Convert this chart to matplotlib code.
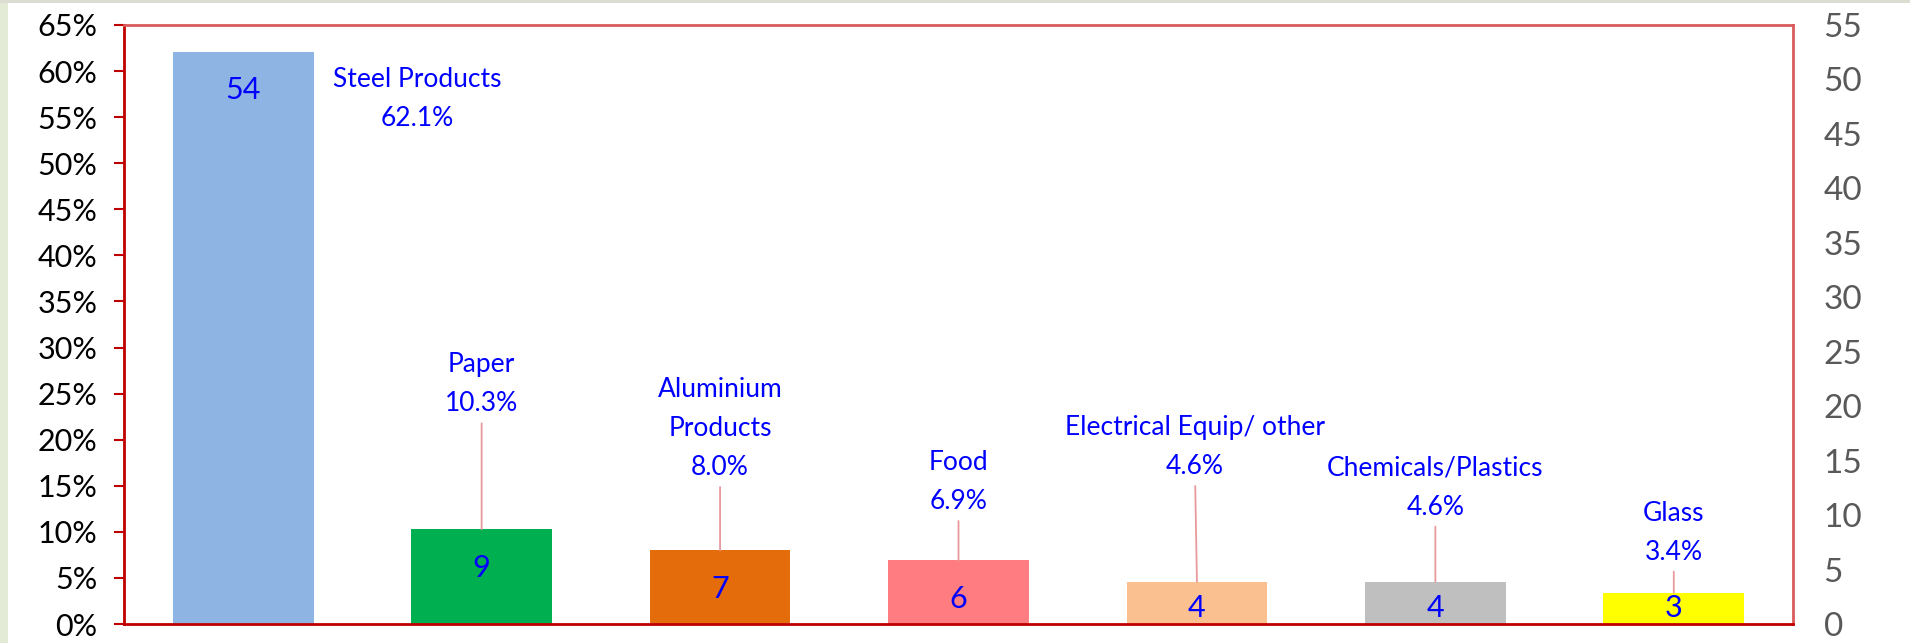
import numpy as np
import matplotlib.pyplot as plt
from matplotlib.ticker import PercentFormatter, MultipleLocator
from matplotlib.patches import Rectangle

plt.rcParams['font.family'] = ['Lato', 'DejaVu Sans']

# data
categories = ["Steel Products", "Paper", "Aluminium\nProducts", "Food",
              "Electrical Equip/ other", "Chemicals/Plastics", "Glass"]
counts = [54, 9, 7, 6, 4, 4, 3]
shares = [62.1, 10.3, 8.0, 6.9, 4.6, 4.6, 3.4]
bar_colors = ["#8eb4e3", "#00b050", "#e46c0a", "#ff7c80", "#fac090", "#bfbfbf", "#ffff00"]

# where each name/percent label sits (category units, % units)
label_xy = [(0.73, 57.0), (1.0, 26.0), (2.0, 21.2), (3.0, 15.4),
            (3.99, 19.2), (5.0, 14.8), (6.0, 9.9)]

fig = plt.figure(figsize=(19.1, 6.43), dpi=100, facecolor='white')
ax = fig.add_axes([124/1910, 19/643, (1793-124)/1910, (624-25)/643])

x = np.arange(len(categories))
ax.bar(x, shares, width=0.59, color=bar_colors, zorder=2)

ax.set_xlim(-0.5, 6.5)
ax.set_ylim(0, 65)
ax.yaxis.set_major_locator(MultipleLocator(5))
ax.yaxis.set_major_formatter(PercentFormatter(xmax=100, decimals=0))
ax.set_xticks([])
ax.tick_params(axis='y', length=7.2, width=1.5, color='#c00000', pad=12,
               labelsize=22, labelcolor='black')
for s in ['left', 'bottom']:
    ax.spines[s].set_color('#c00000')
    ax.spines[s].set_linewidth(2)
for s in ['top', 'right']:
    ax.spines[s].set_color('#d95b5b')
    ax.spines[s].set_linewidth(2)

# counts inside the bars
for i in range(len(counts)):
    ax.text(i, max(shares[i] - 4.2, 1.75), str(counts[i]), ha='center', va='center',
            fontsize=22, color='#0000ff', zorder=3)

# name + share labels with leader lines
for i in range(len(categories)):
    txt = "%s\n%.1f%%" % (categories[i], shares[i])
    if i == 0:
        ax.text(label_xy[i][0], label_xy[i][1], txt, ha='center', va='center',
                fontsize=19, color='#0000ff', linespacing=1.7)
    else:
        ax.annotate(txt, xy=(i, shares[i]), xytext=label_xy[i], ha='center', va='center',
                    fontsize=19, color='#0000ff', linespacing=1.7,
                    arrowprops=dict(arrowstyle='-', color='#e8999b', lw=1.3,
                                    shrinkA=3, shrinkB=0))

# secondary count axis
ax2 = ax.twinx()
ax2.set_ylim(0, 55)
ax2.yaxis.set_major_locator(MultipleLocator(5))
ax2.tick_params(axis='y', length=0, pad=22, labelsize=24, labelcolor='#595959')
for s in ax2.spines.values():
    s.set_visible(False)

# window edge strips
fig.add_artist(Rectangle((0, 0), 8/1910, 1, transform=fig.transFigure,
                         facecolor='#e3ead5', edgecolor='none'))
fig.add_artist(Rectangle((0, 1 - 3/643), 1, 3/643, transform=fig.transFigure,
                         facecolor='#dcddd2', edgecolor='none'))

plt.savefig("out.png", dpi=100)
